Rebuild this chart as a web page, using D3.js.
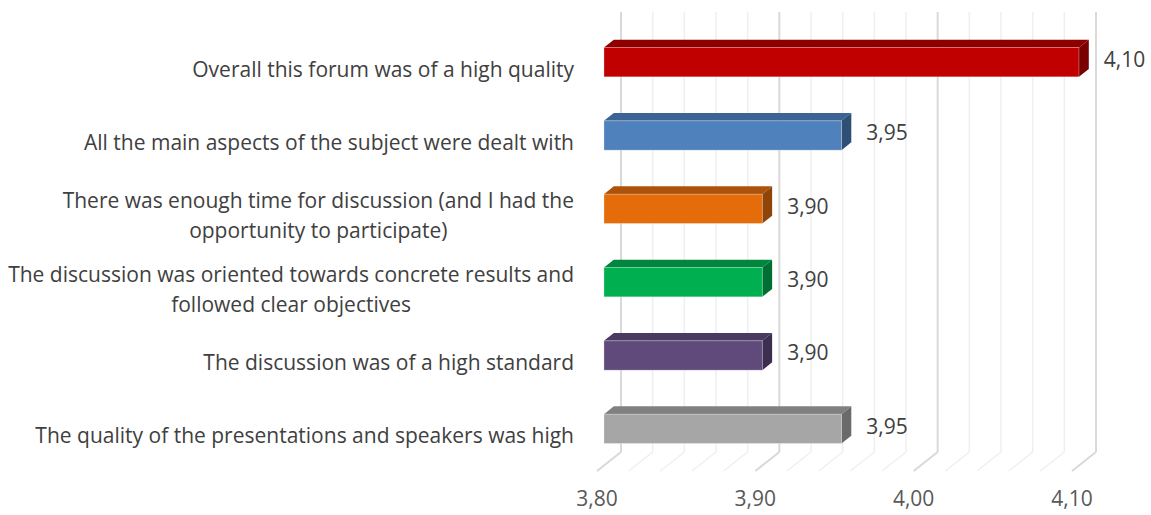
<!DOCTYPE html>
<html>
<head>
<meta charset="utf-8">
<script src="https://cdn.jsdelivr.net/npm/d3@7"></script>
<style>
  body { margin: 0; background: #fff; }
  svg { display: block; font-family: "Open Sans", sans-serif; }
</style>
</head>
<body>
<div id="chart"></div>
<script>
const categories = [
  "Overall this forum was of a high quality",
  "All the main aspects of the subject were dealt with",
  "There was enough time for discussion (and I had the opportunity to participate)",
  "The discussion was oriented towards concrete results and followed clear objectives",
  "The discussion was of a high standard",
  "The quality of the presentations and speakers was high"
];
const values = [4.10, 3.95, 3.90, 3.90, 3.90, 3.95];
const axisTicks = [3.80, 3.90, 4.00, 4.10];

// front / top / side shades for each bar
const frontColors = ["#C00000", "#4F81BD", "#E46C0A", "#00B050", "#604A7B", "#A6A6A6"];
const topColors   = ["#8E0000", "#3C6393", "#AD520A", "#00873D", "#4A3960", "#808080"];
const sideColors  = ["#780000", "#2F4F75", "#8F4408", "#006F33", "#3C2E4E", "#6A6A6A"];

const width = 1151, height = 515;
const wall = { left: 621, right: 1096, top: 12, bottom: 452 };
const floorDepth = { dx: -24, dy: 19 };
const barDepth = [0.3, 0.71]; // back / front of the bars as a fraction of floor depth
const labelRight = 574;
const fontSize = 21;

const svg = d3.select('#chart').append('svg')
  .attr('width', width)
  .attr('height', height);

const x = d3.scaleLinear().domain([3.8, 4.1]).range([wall.left, wall.right]);
const y = d3.scaleBand().domain(categories).range([wall.top, wall.bottom]);

const px = (v, d) => x(v) + d * floorDepth.dx;
const py = (yy, d) => yy + d * floorDepth.dy;

const fmt = d3.formatLocale({ decimal: ',', thousands: '.', grouping: [3], currency: ['', ''] }).format('.2f');

// gridlines: back wall + floor
const grid = x.ticks(15);
const isMajor = t => Math.abs(t * 10 - Math.round(t * 10)) < 1e-6;

svg.append('g').selectAll('line.wall')
  .data(grid)
  .enter().append('line')
  .attr('x1', d => x(d)).attr('x2', d => x(d))
  .attr('y1', wall.top).attr('y2', wall.bottom)
  .attr('stroke', d => isMajor(d) ? '#d9d9d9' : '#efefef')
  .attr('stroke-width', d => isMajor(d) ? 2 : 1.5);

svg.append('g').selectAll('line.floor')
  .data(grid)
  .enter().append('line')
  .attr('x1', d => x(d)).attr('y1', wall.bottom)
  .attr('x2', d => px(d, 1)).attr('y2', py(wall.bottom, 1))
  .attr('stroke', d => isMajor(d) ? '#d9d9d9' : '#efefef')
  .attr('stroke-width', d => isMajor(d) ? 2 : 1.5);

// bars
const barH = y.bandwidth() * 0.4;
const [d0, d1] = barDepth;
const bars = svg.append('g').selectAll('g.bar')
  .data(categories.map((c, i) => ({ c, v: values[i], i })))
  .enter().append('g');

const pts = p => p.map(q => q.join(',')).join(' ');

bars.each(function (d) {
  const g = d3.select(this);
  const yc = y(d.c) + y.bandwidth() / 2;
  const fTop = py(yc - barH / 2, d1), fBot = py(yc + barH / 2, d1);
  const bTop = py(yc - barH / 2, d0), bBot = py(yc + barH / 2, d0);
  const fL = px(3.8, d1), fR = px(d.v, d1);
  const bL = px(3.8, d0), bR = px(d.v, d0);

  g.append('polygon')
    .attr('points', pts([[fL, fTop], [fR, fTop], [bR, bTop], [bL, bTop]]))
    .attr('fill', topColors[d.i]);
  g.append('polygon')
    .attr('points', pts([[fR, fTop], [bR, bTop], [bR, bBot], [fR, fBot]]))
    .attr('fill', sideColors[d.i]);
  g.append('rect')
    .attr('x', fL).attr('y', fTop)
    .attr('width', fR - fL).attr('height', fBot - fTop)
    .attr('fill', frontColors[d.i])
    .attr('stroke', 'rgba(255,255,255,0.35)')
    .attr('stroke-width', 0.8);

  // value label
  g.append('text')
    .attr('x', bR + 15)
    .attr('y', py(yc, d1) - 3)
    .attr('dominant-baseline', 'central')
    .attr('font-size', fontSize)
    .attr('fill', '#404040')
    .text(fmt(d.v));
});

// category labels (wrapped, lines centred inside a right-aligned block)
const lineH = 30, maxW = 580;
const measure = svg.append('text').attr('font-size', fontSize).attr('visibility', 'hidden');
const textW = s => { measure.text(s); return measure.node().getComputedTextLength(); };

categories.forEach(c => {
  const words = c.split(' ');
  const lines = [];
  let line = '';
  words.forEach(w => {
    const test = line ? line + ' ' + w : w;
    if (line && textW(test) > maxW) { lines.push(line); line = w; }
    else line = test;
  });
  lines.push(line);
  const blockW = d3.max(lines, textW);
  const cx = labelRight - blockW / 2;
  const yc = py(y(c) + y.bandwidth() / 2, 1) + 1;
  const t = svg.append('text')
    .attr('font-size', fontSize)
    .attr('fill', '#404040')
    .attr('text-anchor', 'middle');
  lines.forEach((l, k) => {
    t.append('tspan')
      .attr('x', cx)
      .attr('y', yc + (k - (lines.length - 1) / 2) * lineH)
      .attr('dominant-baseline', 'central')
      .text(l);
  });
});
measure.remove();

// x axis labels on the front edge of the floor
svg.append('g').selectAll('text')
  .data(axisTicks)
  .enter().append('text')
  .attr('x', d => px(d, 1))
  .attr('y', 498)
  .attr('text-anchor', 'middle')
  .attr('dominant-baseline', 'central')
  .attr('font-size', fontSize)
  .attr('fill', '#595959')
  .text(d => fmt(d));
</script>
</body>
</html>
